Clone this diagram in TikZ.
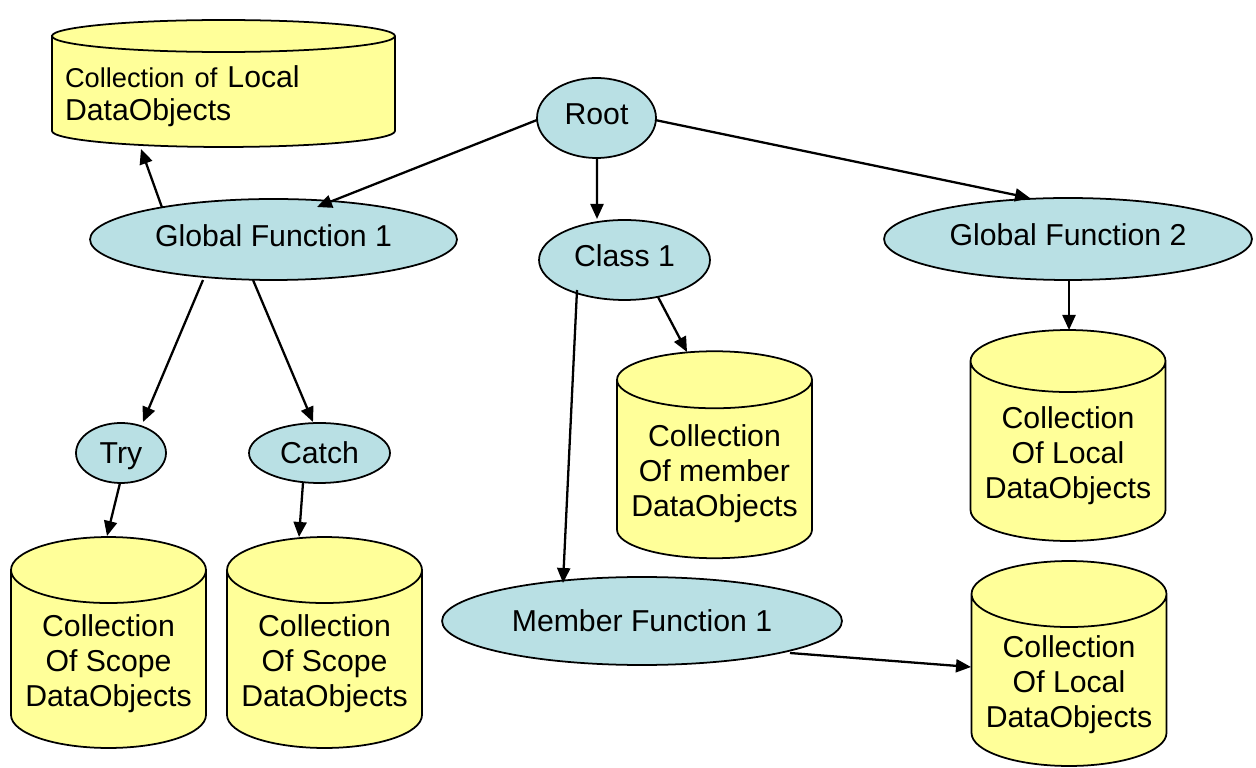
\documentclass[tikz,border=0pt]{standalone}
\usepackage{fontspec}
\setmainfont{Liberation Sans}
\usetikzlibrary{arrows.meta,calc,backgrounds,shapes.geometric}

\definecolor{bubble}{RGB}{185,224,228}
\definecolor{drum}{RGB}{255,255,153}

% Outline of a storage drum around a body node (north = centre of the lid)
% #1 node name, #2 half width, #3 half height of the lid ellipse
\newcommand\drumoutline[3]{%
  \path[drumline] (#1.north west) -- ([yshift=#3]#1.south west)
    arc[start angle=180,end angle=360,x radius=#2,y radius=#3]
    -- (#1.north east)
    arc[start angle=0,end angle=180,x radius=#2,y radius=#3] -- cycle
    (#1.north west) arc[start angle=180,end angle=360,x radius=#2,y radius=#3];
}
% tall strut that lowers the text block inside a drum body
\newcommand\drumstrut{\rule{0pt}{17.5pt}}

\begin{document}
\begin{tikzpicture}[x=0.02cm,y=0.02cm,
  font=\fontsize{17.2}{19.8}\selectfont,
  bubblenode/.style={ellipse, draw, line width=1pt, fill=bubble, inner sep=0pt},
  raised/.style={text depth=4.5pt},
  drumnode/.style={rectangle, inner sep=0pt, outer sep=0pt, align=center,
                   minimum width=3.9cm},
  drumline/.style={draw, line width=1pt, fill=drum},
  link/.style={line width=1.3pt, -{Triangle[length=0.3cm,width=0.26cm]}}]

\useasboundingbox (0,0) rectangle (1256,767);

% function / scope nodes
\node[bubblenode, raised, minimum width=2.38cm, minimum height=1.6cm] (root) at (596.5,649) {Root};
\node[bubblenode, raised, minimum width=7.34cm, minimum height=1.62cm] (gf1) at (273.5,527.5) {Global Function 1};
\node[bubblenode, raised, minimum width=3.42cm, minimum height=1.6cm] (class1) at (624.5,507) {Class 1};
\node[bubblenode, raised, minimum width=7.36cm, minimum height=1.64cm] (gf2) at (1068,528) {Global Function 2};
\node[bubblenode, text depth=0pt, minimum width=1.8cm, minimum height=1.2cm] (try) at (121,314) {Try};
\node[bubblenode, minimum width=2.82cm, minimum height=1.2cm] (catch) at (319.5,314) {Catch};
\node[bubblenode, minimum width=8cm, minimum height=1.76cm] (mf1) at (642,146) {Member Function 1};

% data object collections
\node[drumnode, minimum width=6.86cm, minimum height=2.22cm, text width=6.34cm,
      align=left, inner xsep=0.26cm, font=\fontsize{17.2}{18.7}\selectfont]
  (localtop) at (223.5,675.5) {\drumstrut{\fontsize{15.5}{18.7}\selectfont Collection of} Local\\DataObjects};
\node[drumnode, minimum height=3.56cm] (tryc) at (108.5,108) {\drumstrut Collection\\Of Scope\\DataObjects};
\node[drumnode, minimum height=3.56cm] (catchc) at (324.5,108) {\drumstrut Collection\\Of Scope\\DataObjects};
\node[drumnode, minimum height=3.57cm] (memc) at (714.5,298) {\drumstrut Collection\\Of member\\DataObjects};
\node[drumnode, minimum height=3.6cm] (gf2c) at (1068,316) {\drumstrut Collection\\Of Local\\DataObjects};
\node[drumnode, minimum height=3.44cm] (mfc) at (1069,87) {\drumstrut Collection\\Of Local\\DataObjects};

\begin{scope}[on background layer]
  \drumoutline{localtop}{3.43cm}{0.32cm}
  \drumoutline{tryc}{1.95cm}{0.66cm}
  \drumoutline{catchc}{1.95cm}{0.66cm}
  \drumoutline{memc}{1.95cm}{0.57cm}
  \drumoutline{gf2c}{1.95cm}{0.62cm}
  \drumoutline{mfc}{1.95cm}{0.66cm}
\end{scope}

% connectors
\draw[link] ($(root)+(-59.5,-2)$) -- ($(gf1)+(43.5,32.5)$);
\draw[link] ($(root)+(0.5,-40)$) -- ($(class1)+(-27.5,41)$);
\draw[link] ($(root)+(58.5,-2)$) -- ($(gf2)+(-38,41)$);
\draw[link] ($(gf1)+(-111.5,32)$) -- ($(localtop)+(-82.5,-57.5)$);
\draw[link] ($(gf1)+(-70.5,-40.5)$) -- ($(try)+(22,31)$);
\draw[link] ($(gf1)+(-20.5,-40.5)$) -- ($(catch)+(-6.5,31)$);
\draw[link] ($(try)+(-1,-30)$) -- ($(tryc)+(-1.5,123)$);
\draw[link] ($(catch)+(-16.5,-30)$) -- ($(catchc)+(-25.5,122)$);
\draw[link] ($(class1)+(33.5,-37)$) -- ($(memc)+(-27.5,117)$);
\draw[link] ($(class1)+(-47.5,-30)$) -- ($(mf1)+(-79,38)$);
\draw[link] ($(gf2)+(1,-41)$) -- ($(gf2c)+(1,121)$);
\draw[link] ($(mf1)+(148,-32)$) -- ($(mfc)+(-98,13)$);

\end{tikzpicture}
\end{document}
